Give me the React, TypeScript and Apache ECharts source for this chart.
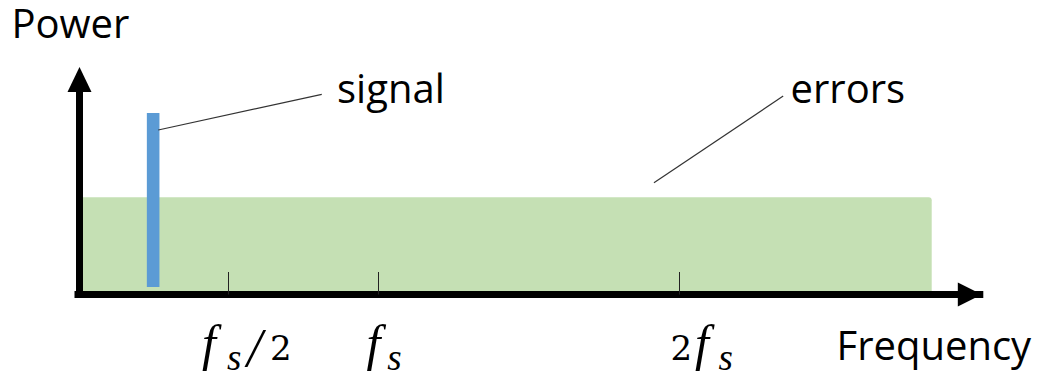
import React, { useEffect, useRef } from "react";
import * as echarts from "echarts";

// ---- data (frequency in multiples of fs, power in arbitrary units) ----
const freqTicks = [0.5, 1, 2];
const tickGlyphs = [["f", "s", "/", "2"], ["f", "s"], ["2", "f", "s"]];
const errorBand = [[0, 2.84, 4.52]]; // [from, to, power]
const signalLine = [[0.25, 0.35, 8.44]]; // [freq, power low, power high]
const signalLeader = [[0.267, 7.65], [0.811, 9.31]];
const errorsLeader = [[1.916, 5.2], [2.346, 9.23]];
const xName = "Frequency";
const yName = "Power";
const signalName = "signal";
const errorsName = "errors";

// ---- layout / styles (pixel offsets of each glyph from its tick) ----
const tickGlyphOffsets = [
  [-26.3, -1.3, 18.6, 41.6],
  [-12.2, 8.6],
  [-8.8, 15.8, 39.2],
];
function glyphStyle(g: string) {
  if (g === "f") return { fontFamily: "Liberation Serif", fontStyle: "italic", fontSize: 50, y: 343.1 };
  if (g === "s") return { fontFamily: "Liberation Serif", fontStyle: "italic", fontSize: 37, y: 357 };
  if (g === "/") return { fontFamily: "Liberation Serif", fontStyle: "italic", fontSize: 54, y: 348 };
  return { fontFamily: "DejaVu Serif", fontStyle: "normal", fontSize: 34, y: 348.2 };
}

export default function App() {
  const ref = useRef<HTMLDivElement>(null);
  useEffect(() => {
    if (!ref.current) return;
    const chart = echarts.init(ref.current, undefined, { renderer: "svg" });

    const textEl = (t: string, x: number, y: number, size: number, family = "Open Sans", fontStyle = "normal") => ({
      type: "text",
      x,
      y,
      z: 20,
      style: {
        text: t,
        fill: "#000",
        fontFamily: family,
        fontStyle,
        fontSize: size,
        lineHeight: size,
        align: "left",
        verticalAlign: "middle",
      },
    });

    chart.setOption({
      animation: false,
      grid: { left: 78, right: 65.2, top: 79.5, bottom: 76.5, containLabel: false, outerBoundsMode: "none" },
      xAxis: {
        type: "value",
        min: 0,
        max: 3,
        z: 10,
        axisLine: {
          show: true,
          onZero: false,
          symbol: ["none", "triangle"],
          symbolSize: [24, 24],
          symbolOffset: [0, -10],
          lineStyle: { color: "#000", width: 7, cap: "square" },
        },
        axisTick: { show: true, customValues: freqTicks, inside: true, length: 22.5, lineStyle: { color: "#222", width: 1 } },
        axisLabel: { show: false },
        splitLine: { show: false },
      },
      yAxis: {
        type: "value",
        min: 0,
        max: 10,
        z: 10,
        offset: -1.5,
        axisLine: {
          show: true,
          onZero: false,
          symbol: ["none", "triangle"],
          symbolSize: [24, 25],
          lineStyle: { color: "#000", width: 7, cap: "square" },
        },
        axisTick: { show: false },
        axisLabel: { show: false },
        splitLine: { show: false },
      },
      series: [
        {
          type: "custom",
          name: errorsName,
          data: errorBand,
          encode: { x: [0, 1], y: 2 },
          renderItem: (params: any, api: any) => {
            const p0 = api.coord([api.value(0), api.value(2)]);
            const p1 = api.coord([api.value(1), 0]);
            return {
              type: "rect",
              shape: { x: p0[0], y: p0[1], width: p1[0] - p0[0], height: p1[1] - p0[1], r: [0, 3, 0, 0] },
              style: { fill: "#C5E0B4" },
            };
          },
          markLine: {
            silent: true,
            symbol: ["none", "none"],
            label: { show: false },
            lineStyle: { color: "#333", width: 1.2, type: "solid" },
            data: [
              [{ coord: signalLeader[0] }, { coord: signalLeader[1] }],
              [{ coord: errorsLeader[0] }, { coord: errorsLeader[1] }],
            ],
          },
          z: 2,
        },
        {
          type: "custom",
          name: signalName,
          data: signalLine,
          encode: { x: 0, y: [1, 2] },
          renderItem: (params: any, api: any) => {
            const top = api.coord([api.value(0), api.value(2)]);
            const bot = api.coord([api.value(0), api.value(1)]);
            const w = 12.6;
            return {
              type: "rect",
              shape: { x: top[0] - w / 2, y: top[1], width: w, height: bot[1] - top[1] },
              style: { fill: "#5B9BD5" },
            };
          },
          z: 3,
        },
      ],
    });

    // tick labels placed at the axis' own tick positions
    const tickTexts: any[] = [];
    freqTicks.forEach((v, i) => {
      const tx = chart.convertToPixel({ xAxisIndex: 0 }, v) as number;
      tickGlyphs[i].forEach((g, j) => {
        const st = glyphStyle(g);
        tickTexts.push(textEl(g, tx + tickGlyphOffsets[i][j], st.y, st.fontSize, st.fontFamily, st.fontStyle));
      });
    });

    chart.setOption({
      graphic: [
        textEl(yName, 11.4, 22.2, 40),
        textEl(xName, 836.5, 344, 40),
        textEl(signalName, 337, 87.2, 40),
        textEl(errorsName, 790.5, 87.8, 40),
        ...tickTexts,
      ],
    });
    return () => chart.dispose();
  }, []);
  return <div ref={ref} style={{ position: "absolute", left: 0, top: 0, width: 1045, height: 371 }} />;
}
